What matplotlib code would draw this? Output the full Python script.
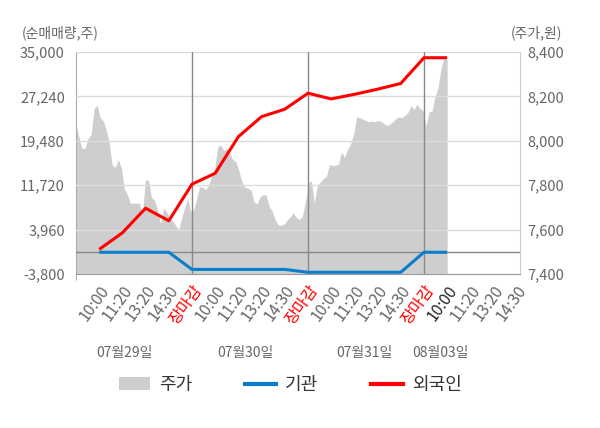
import numpy as np
import matplotlib
matplotlib.use('Agg')
import matplotlib.pyplot as plt
import matplotlib.transforms as mtransforms
from matplotlib.ticker import FuncFormatter
from matplotlib.patches import Patch
from matplotlib.lines import Line2D

plt.rcParams['font.family'] = ['Noto Sans CJK KR', 'DejaVu Sans']

# --- data ---
day_labels = ['07월29일', '07월30일', '07월31일', '08월03일']
date_pos = [2.1, 7.3, 12.45, 15.7]
time_labels = ['10:00', '11:20', '13:20', '14:30', '장마감']

# net buying (shares) at each time tick, days 1-3 full, day 4 first tick
foreign = [500, 3400, 7700, 5500, 11900,
           13800, 20200, 23700, 25000, 27800,
           26800, 27600, 28500, 29500, 34000,
           34000]
inst = [0, 0, 0, 0, -3000,
        -3000, -3000, -3000, -3000, -3500,
        -3500, -3500, -3500, -3500, 0,
        0]

# intraday price (won)
price = [8071, 8015, 7965, 7966, 8010, 8030, 8145, 8160, 8105, 8090,
         8050, 7989, 7890, 7880, 7915, 7880, 7785, 7760, 7719, 7719,
         7719, 7719, 7670, 7823, 7823, 7745, 7733, 7690, 7625, 7696,
         7680, 7655, 7640, 7620, 7600, 7650, 7700, 7741, 7680, 7690,
         7740, 7793, 7790, 7780, 7801, 7845, 7880, 7975, 7980, 7956,
         7966, 7940, 7915, 7906, 7865, 7815, 7790, 7786, 7778, 7725,
         7715, 7748, 7758, 7755, 7705, 7683, 7645, 7621, 7620, 7625,
         7643, 7658, 7675, 7655, 7645, 7658, 7725, 7810, 7820, 7720,
         7800, 7815, 7830, 7840, 7894, 7888, 7890, 7895, 7950, 7925,
         7962, 7985, 8030, 8108, 8105, 8098, 8092, 8086, 8089, 8085,
         8092, 8088, 8078, 8068, 8076, 8085, 8100, 8108, 8104, 8115,
         8127, 8158, 8140, 8165, 8146, 8136, 8064, 8132, 8134, 8200,
         8240, 8330, 8372, 8364]

left_ticks = [-3800, 3960, 11720, 19480, 27240, 35000]
right_ticks = [7400, 7600, 7800, 8000, 8200, 8400]

# --- figure ---
fig = plt.figure(figsize=(6, 4.28), dpi=100)
ax = fig.add_axes([76 / 600, 154 / 428, 444 / 600, 222 / 428])
ax2 = ax.twinx()
ax.set_zorder(ax2.get_zorder() + 1)
ax.patch.set_visible(False)
ax2.patch.set_facecolor('#f4f4f4')

n_ticks = len(day_labels) * len(time_labels)
px = np.linspace(0, len(foreign), len(price))
ax2.fill_between(px, 7400, price, color='#cecece', linewidth=0)
ax2.set_ylim(7400, 8400)
ax2.set_yticks(right_ticks)

xs = np.arange(1, len(foreign) + 1)
ax.plot(xs, inst, color='#0a7dcc', linewidth=2.2, zorder=4, solid_capstyle='butt')
ax.plot(xs, foreign, color='#ff0000', linewidth=2.2, zorder=5, solid_capstyle='butt')

ax.set_ylim(-3800, 35000)
ax.set_yticks(left_ticks)
ax.set_xlim(0, 19.14)
ax.yaxis.grid(True, color='#dcdcdc', linewidth=1)
ax.set_axisbelow(False)
ax.axhline(0, color='#888888', linewidth=1, zorder=3)
for d in range(1, len(day_labels)):
    ax.axvline(d * len(time_labels), color='#888888', linewidth=1, zorder=3)

fmt = FuncFormatter(lambda v, p: f'{int(v):,}')
ax.yaxis.set_major_formatter(fmt)
ax2.yaxis.set_major_formatter(fmt)
ax.tick_params(axis='y', length=0, pad=8, labelsize=10.5, labelcolor='#666666')
ax2.tick_params(axis='y', length=0, pad=5, labelsize=10.5, labelcolor='#666666')

# x tick labels
pos = np.arange(1, n_ticks)
labels = (time_labels * len(day_labels))[:len(pos)]
ax.set_xticks(pos)
ax.set_xticklabels(labels, rotation=54, ha='right', va='top',
                   rotation_mode='anchor', fontsize=11.5)
ax.tick_params(axis='x', length=0, pad=6)
for i, t in enumerate(ax.get_xticklabels()):
    if labels[i] == '장마감':
        t.set_color('#ff0000')
    elif i == 3 * len(time_labels):
        t.set_color('#222222')
    else:
        t.set_color('#666666')
ax.set_xticks([0, 5, 10, 15], minor=True)
ax.tick_params(axis='x', which='minor', length=4, color='#999999')

for sp in ['top']:
    ax.spines[sp].set_visible(False)
    ax2.spines[sp].set_visible(False)
ax.spines['left'].set_color('#aaaaaa')
ax.spines['bottom'].set_color('#999999')
ax.spines['right'].set_visible(False)
ax2.spines['right'].set_color('#cccccc')
ax2.spines['left'].set_visible(False)
ax2.spines['bottom'].set_visible(False)

# date labels
tr = mtransforms.blended_transform_factory(ax.transData, fig.transFigure)
for lab, p in zip(day_labels, date_pos):
    ax.text(p, 1 - 353 / 428, lab, transform=tr, ha='center', va='center',
            fontsize=10, color='#666666')

fig.text(22 / 600, 1 - 33 / 428, '(순매매량,주)', ha='left', va='center',
         fontsize=10, color='#666666')
fig.text(562 / 600, 1 - 33 / 428, '(주가,원)', ha='right', va='center',
         fontsize=10, color='#666666')

handles = [Patch(facecolor='#cecece', edgecolor='none'),
           Line2D([], [], color='#0a7dcc', linewidth=3),
           Line2D([], [], color='#ff0000', linewidth=3)]
fig.legend(handles, ['주가', '기관', '외국인'], loc='center',
           bbox_to_anchor=(290 / 600, 1 - 385 / 428), ncol=3, frameon=False,
           fontsize=13, handlelength=1.75, handleheight=0.7, handletextpad=0.5,
           columnspacing=2.9, labelcolor='#333333')

fig.savefig('out.png', dpi=100)
